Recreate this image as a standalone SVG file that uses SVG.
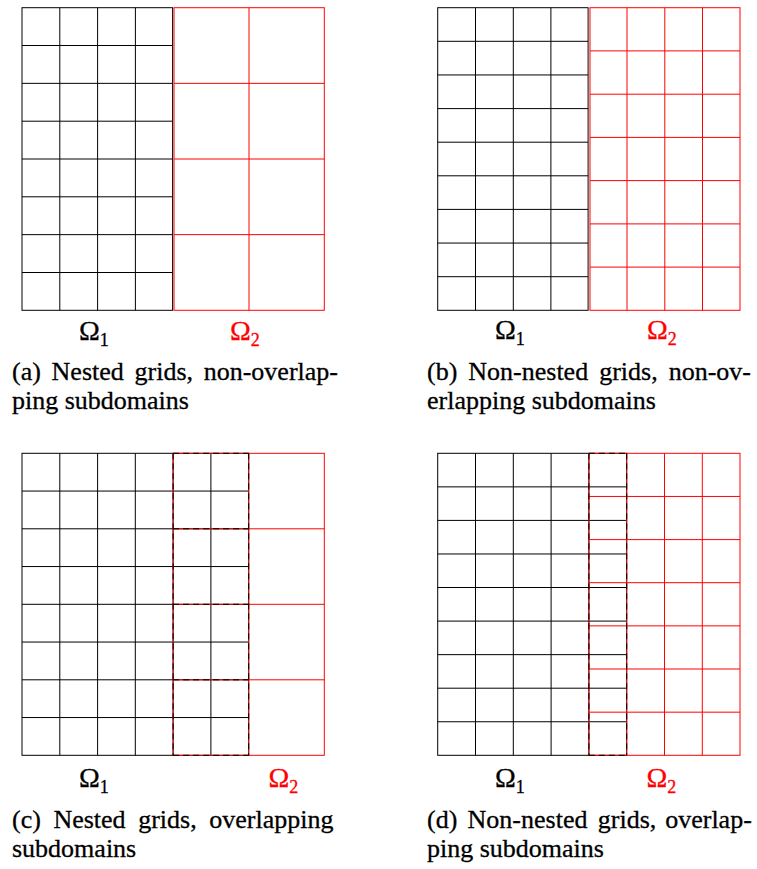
<svg xmlns="http://www.w3.org/2000/svg" width="757" height="869" viewBox="0 0 757 869">
<style>
.blk{fill:none;stroke:#000;stroke-width:1}
.red{fill:none;stroke:#f00;stroke-width:1}
.dsh{fill:none;stroke:#000;stroke-width:1;stroke-dasharray:6 4}
text{font-family:"Liberation Serif","Times New Roman",serif;fill:#000;stroke:#000;stroke-width:0.3}
.om{font-size:28px}
.sub{font-size:18px}
.cap{font-size:26px}
.r{fill:#f00;stroke:#f00}
</style>
<rect width="757" height="869" fill="#fff"/>

<g id="panel-a">
  <g id="a-omega1-grid">
    <rect class="blk" x="22" y="7.7" width="150.6" height="302.6"/>
    <path class="blk" d="M59.8 7.7V310.3M97.6 7.7V310.3M135.4 7.7V310.3M22 45.5H172.6M22 83.35H172.6M22 121.2H172.6M22 159H172.6M22 196.8H172.6M22 234.65H172.6M22 272.5H172.6"/>
  </g>
  <g id="a-omega2-grid">
    <rect class="red" x="174" y="7.7" width="150.3" height="302.6"/>
    <path class="red" d="M249 7.7V310.3M174 83.35H324.3M174 159H324.3M174 234.65H324.3"/>
  </g>
  <text class="om" x="79" y="339.5">Ω<tspan class="sub" dy="6">1</tspan></text>
  <text class="om r" x="230" y="339.5">Ω<tspan class="sub" dy="6">2</tspan></text>
  <text class="cap" y="380"><tspan x="12">(a)</tspan><tspan x="51.6">Nested</tspan><tspan x="134.5">grids,</tspan><tspan x="203.7">non-overlap-</tspan></text>
  <text class="cap" x="12" y="408.5">ping subdomains</text>
</g>

<g id="panel-b">
  <g id="b-omega1-grid">
    <rect class="blk" x="437.7" y="7.7" width="150.4" height="302.6"/>
    <path class="blk" d="M475.5 7.7V310.3M513.3 7.7V310.3M550.9 7.7V310.3M437.7 41.3H588.1M437.7 74.95H588.1M437.7 108.6H588.1M437.7 142.2H588.1M437.7 175.8H588.1M437.7 209.4H588.1M437.7 243.05H588.1M437.7 276.7H588.1"/>
  </g>
  <g id="b-omega2-grid">
    <rect class="red" x="590" y="7.7" width="150" height="302.6"/>
    <path class="red" d="M627 7.7V310.3M664.8 7.7V310.3M702.5 7.7V310.3M590 50.9H740M590 94.2H740M590 137.4H740M590 180.6H740M590 223.9H740M590 267.1H740"/>
  </g>
  <text class="om" x="495" y="339">Ω<tspan class="sub" dy="6">1</tspan></text>
  <text class="om r" x="647" y="339">Ω<tspan class="sub" dy="6">2</tspan></text>
  <text class="cap" y="380"><tspan x="427">(b)</tspan><tspan x="468.3">Non-nested</tspan><tspan x="599.2">grids,</tspan><tspan x="668.7">non-ov-</tspan></text>
  <text class="cap" x="427" y="408.5">erlapping subdomains</text>
</g>

<g id="panel-c">
  <g id="c-omega1-grid">
    <rect class="blk" x="22" y="453.3" width="226.7" height="302"/>
    <path class="blk" d="M59.8 453.3V755.3M97.6 453.3V755.3M135.3 453.3V755.3M173.1 453.3V755.3M210.9 453.3V755.3M22 491.05H248.7M22 528.8H248.7M22 566.55H248.7M22 604.3H248.7M22 642.05H248.7M22 679.8H248.7M22 717.55H248.7"/>
  </g>
  <g id="c-omega2-grid">
    <rect class="red" x="173.1" y="453.3" width="151.2" height="302"/>
    <path class="red" d="M248.7 453.3V755.3M173.1 528.8H324.3M173.1 604.3H324.3M173.1 679.8H324.3"/>
  </g>
  <g id="c-overlap">
    <path class="dsh" d="M173.1 453.3V755.3M248.7 453.3V755.3M173.1 453.3H248.7M173.1 528.8H248.7M173.1 604.3H248.7M173.1 679.8H248.7M173.1 755.3H248.7"/>
  </g>
  <text class="om" x="79" y="786.5">Ω<tspan class="sub" dy="6">1</tspan></text>
  <text class="om r" x="268.5" y="786.5">Ω<tspan class="sub" dy="6">2</tspan></text>
  <text class="cap" y="828"><tspan x="12">(c)</tspan><tspan x="53.4">Nested</tspan><tspan x="138.2">grids,</tspan><tspan x="209.3">overlapping</tspan></text>
  <text class="cap" x="12" y="856.5">subdomains</text>
</g>

<g id="panel-d">
  <g id="d-omega1-grid">
    <rect class="blk" x="437.7" y="453.3" width="189" height="302"/>
    <path class="blk" d="M475.5 453.3V755.3M513.3 453.3V755.3M551.1 453.3V755.3M588.9 453.3V755.3M437.7 486.86H626.7M437.7 520.4H626.7M437.7 553.97H626.7M437.7 587.5H626.7M437.7 621.1H626.7M437.7 654.65H626.7M437.7 688.2H626.7M437.7 721.76H626.7"/>
  </g>
  <g id="d-omega2-grid">
    <rect class="red" x="588.9" y="453.3" width="151.1" height="302"/>
    <path class="red" d="M626.7 453.3V755.3M664.5 453.3V755.3M702.3 453.3V755.3M588.9 496.44H740M588.9 539.6H740M588.9 582.7H740M588.9 625.86H740M588.9 669H740M588.9 712.16H740"/>
  </g>
  <g id="d-overlap">
    <path class="dsh" d="M588.9 453.3V755.3M626.7 453.3V755.3M588.9 453.3H626.7M588.9 755.3H626.7"/>
  </g>
  <text class="om" x="495" y="787">Ω<tspan class="sub" dy="6">1</tspan></text>
  <text class="om r" x="646.5" y="787">Ω<tspan class="sub" dy="6">2</tspan></text>
  <text class="cap" y="828"><tspan x="427">(d)</tspan><tspan x="467.6">Non-nested</tspan><tspan x="597.8">grids,</tspan><tspan x="665.2">overlap-</tspan></text>
  <text class="cap" x="427" y="856.5">ping subdomains</text>
</g>
</svg>
